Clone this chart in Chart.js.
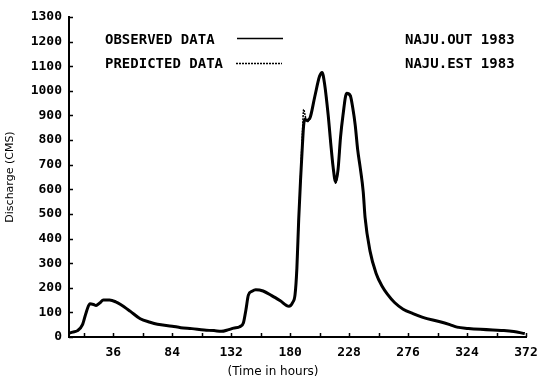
<!DOCTYPE html>
<html>
<head>
<meta charset="utf-8">
<script src="https://cdn.jsdelivr.net/npm/chart.js@4/dist/chart.umd.min.js"></script>
<style>
  html, body { margin: 0; padding: 0; background: #fff; }
</style>
</head>
<body>
<canvas id="flowChart" width="537" height="383"></canvas>
<script>
// hydrograph readings (hours, CMS)
const hours = [0, 3, 7, 11, 14, 17, 20, 22, 25, 28, 33, 38, 42, 50, 58, 66, 72, 84, 91, 100,
  110, 118, 124, 130, 134, 139, 142, 144, 146, 149, 152, 158, 165, 172, 179, 182, 184, 185.5,
  187, 188.5, 190, 191, 192, 193.5, 196, 200, 204, 206, 208, 211, 213, 215, 217, 219, 221,
  223, 226, 229, 231, 233, 235, 237, 239.5, 241, 245, 250, 255, 259, 265, 272, 280, 288,
  302, 310, 316, 325, 335, 345, 354, 362, 371];
const observed = [15, 20, 26, 50, 100, 135, 132, 128, 138, 150, 150, 143, 132, 104, 74, 60, 52, 44, 38, 34,
  28, 26, 23, 30, 36, 42, 58, 110, 170, 186, 192, 187, 168, 147, 125, 140, 172, 280,
  480, 640, 780, 860, 885, 880, 888, 975, 1060, 1075, 1030, 900, 790, 690, 630, 680, 810,
  900, 990, 980, 930, 860, 760, 690, 590, 486, 350, 258, 205, 175, 140, 113, 95, 80,
  62, 50, 40, 35, 31, 28, 26, 22, 14];
const predicted = [15, 20, 26, 50, 100, 135, 132, 128, 138, 150, 150, 143, 132, 104, 74, 60, 52, 44, 38, 34,
  28, 26, 23, 30, 36, 42, 58, 110, 170, 186, 192, 187, 168, 147, 125, 140, 172, 280,
  480, 650, 830, 925, 905, 875, 886, 975, 1060, 1070, 1030, 900, 790, 690, 625, 680, 810,
  900, 990, 982, 930, 860, 760, 690, 590, 486, 350, 258, 205, 175, 140, 113, 95, 80,
  62, 50, 40, 35, 31, 28, 26, 22, 14];

const xTickLabels = [36, 84, 132, 180, 228, 276, 324, 372];
const xMinorTicks = [12, 36, 60, 84, 108, 132, 156, 180, 204, 228, 252, 276, 300, 324, 348, 372];
const yTickValues = [0, 100, 200, 300, 400, 500, 600, 700, 800, 900, 1000, 1100, 1200, 1300];
const legendNames = ['OBSERVED DATA', 'PREDICTED DATA'];
const runNames = ['NAJU.OUT 1983', 'NAJU.EST 1983'];

const monoBold = 'bold 14px "DejaVu Sans Mono"';

// inward tick marks, legend, run names, x title
const plotExtras = {
  id: 'plotExtras',
  afterDraw(chart) {
    const { ctx, chartArea, scales } = chart;
    ctx.save();
    ctx.strokeStyle = '#000';
    ctx.lineWidth = 1.5;
    ctx.beginPath();
    xMinorTicks.forEach(v => {
      const px = Math.round(scales.x.getPixelForValue(v)) + 0.5;
      ctx.moveTo(px, chartArea.bottom);
      ctx.lineTo(px, chartArea.bottom - 4);
    });
    yTickValues.forEach(v => {
      const py = Math.round(scales.y.getPixelForValue(v)) + 0.5;
      ctx.moveTo(chartArea.left, py);
      ctx.lineTo(chartArea.left + 4, py);
    });
    ctx.stroke();

    ctx.fillStyle = '#000';
    ctx.font = monoBold;
    ctx.textBaseline = 'middle';
    ctx.textAlign = 'left';
    ctx.fillText(legendNames[0], 105, 40);
    ctx.fillText(legendNames[1], 105, 64);
    ctx.fillText(runNames[0], 405, 40);
    ctx.fillText(runNames[1], 405, 64);

    ctx.beginPath();
    ctx.lineWidth = 1.5;
    ctx.moveTo(237, 38.5);
    ctx.lineTo(283, 38.5);
    ctx.stroke();
    ctx.beginPath();
    ctx.setLineDash([2, 1]);
    ctx.moveTo(236, 63.5);
    ctx.lineTo(282, 63.5);
    ctx.stroke();
    ctx.setLineDash([]);

    ctx.font = '12px "DejaVu Sans"';
    ctx.textAlign = 'center';
    ctx.fillText('(Time in hours)', 273, 372);
    ctx.restore();
  }
};

const tickFont = { family: 'DejaVu Sans Mono', size: 13, weight: 'bold' };

new Chart(document.getElementById('flowChart'), {
  type: 'line',
  data: {
    datasets: [
      {
        label: legendNames[0],
        data: hours.map((h, i) => ({ x: h, y: observed[i] })),
        borderColor: '#000',
        borderWidth: 3,
        pointRadius: 0,
        cubicInterpolationMode: 'monotone'
      },
      {
        label: legendNames[1],
        data: hours.map((h, i) => ({ x: h, y: predicted[i] })),
        borderColor: '#000',
        borderWidth: 1.5,
        borderDash: [2, 1],
        pointRadius: 0,
        cubicInterpolationMode: 'monotone'
      }
    ]
  },
  options: {
    responsive: false,
    animation: false,
    devicePixelRatio: 1,
    layout: { padding: { left: 0, right: 0, top: 17, bottom: 0 } },
    plugins: {
      legend: { display: false },
      tooltip: { enabled: false }
    },
    scales: {
      x: {
        type: 'linear',
        min: 0,
        max: 372,
        afterBuildTicks: s => { s.ticks = xTickLabels.map(v => ({ value: v })); },
        afterFit: s => { s.height = 383 - 337; s.paddingRight = 11; },
        grid: { display: false, drawTicks: false },
        border: { display: true, color: '#000', width: 2 },
        ticks: { padding: 8, color: '#000', font: tickFont, maxRotation: 0, autoSkip: false,
          callback: v => String(v) }
      },
      y: {
        min: 0,
        max: 1300,
        afterBuildTicks: s => { s.ticks = yTickValues.map(v => ({ value: v })); },
        afterFit: s => { s.width = 69; },
        grid: { display: false, drawTicks: false },
        border: { display: true, color: '#000', width: 2 },
        ticks: { padding: 7, color: '#000', font: tickFont, autoSkip: false,
          callback: v => String(v) },
        title: {
          display: true,
          text: 'Discharge (CMS)',
          color: '#000',
          font: { family: 'DejaVu Sans', size: 11 },
          padding: { top: 4, bottom: 0 }
        }
      }
    }
  },
  plugins: [plotExtras]
});
</script>
</body>
</html>
